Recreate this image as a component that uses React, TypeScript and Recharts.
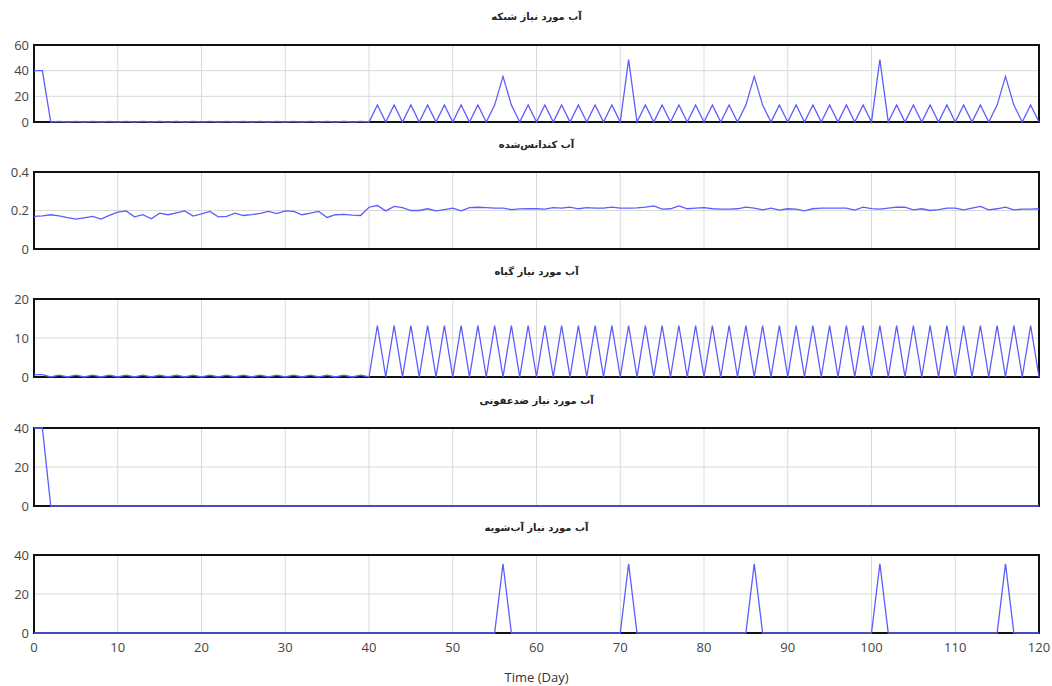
import { LineChart, Line, XAxis, YAxis, CartesianGrid, ReferenceArea } from 'recharts'

const days = [
  0, 1, 2, 3, 4, 5, 6, 7, 8, 9, 10, 11, 12, 13, 14, 15, 16, 17, 18, 19,
  20, 21, 22, 23, 24, 25, 26, 27, 28, 29, 30, 31, 32, 33, 34, 35, 36, 37, 38, 39,
  40, 41, 42, 43, 44, 45, 46, 47, 48, 49, 50, 51, 52, 53, 54, 55, 56, 57, 58, 59,
  60, 61, 62, 63, 64, 65, 66, 67, 68, 69, 70, 71, 72, 73, 74, 75, 76, 77, 78, 79,
  80, 81, 82, 83, 84, 85, 86, 87, 88, 89, 90, 91, 92, 93, 94, 95, 96, 97, 98, 99,
  100, 101, 102, 103, 104, 105, 106, 107, 108, 109, 110, 111, 112, 113, 114, 115, 116, 117, 118, 119,
  120,
]

// آب مورد نیاز شبکه
const network = [
  40, 40, 0, 0.5, 0, 0.5, 0, 0.5, 0, 0.5,
  0, 0.5, 0, 0.5, 0, 0.5, 0, 0.5, 0, 0.5,
  0, 0.5, 0, 0.5, 0, 0.5, 0, 0.5, 0, 0.5,
  0, 0.5, 0, 0.5, 0, 0.5, 0, 0.5, 0, 0.5,
  0, 13.2, 0, 13.2, 0, 13.2, 0, 13.2, 0, 13.2,
  0, 13.2, 0, 13.2, 0, 13.2, 35.5, 13.2, 0, 13.2,
  0, 13.2, 0, 13.2, 0, 13.2, 0, 13.2, 0, 13.2,
  0, 48.7, 0, 13.2, 0, 13.2, 0, 13.2, 0, 13.2,
  0, 13.2, 0, 13.2, 0, 13.2, 35.5, 13.2, 0, 13.2,
  0, 13.2, 0, 13.2, 0, 13.2, 0, 13.2, 0, 13.2,
  0, 48.7, 0, 13.2, 0, 13.2, 0, 13.2, 0, 13.2,
  0, 13.2, 0, 13.2, 0, 13.2, 35.5, 13.2, 0, 13.2,
  0,
]

// آب کندانس‌شده
const condensate = [
  0.169, 0.172, 0.178, 0.172, 0.163, 0.155, 0.162, 0.169, 0.155, 0.175,
  0.191, 0.198, 0.167, 0.178, 0.157, 0.186, 0.178, 0.188, 0.198, 0.171,
  0.183, 0.195, 0.167, 0.169, 0.186, 0.174, 0.179, 0.185, 0.195, 0.184,
  0.198, 0.195, 0.178, 0.186, 0.195, 0.164, 0.178, 0.18, 0.176, 0.174,
  0.217, 0.226, 0.198, 0.221, 0.215, 0.2, 0.2, 0.209, 0.198, 0.205,
  0.212, 0.198, 0.215, 0.217, 0.215, 0.212, 0.212, 0.205, 0.208, 0.21,
  0.209, 0.207, 0.215, 0.212, 0.217, 0.209, 0.215, 0.212, 0.212, 0.217,
  0.212, 0.212, 0.214, 0.217, 0.224, 0.207, 0.209, 0.224, 0.209, 0.212,
  0.215, 0.209, 0.207, 0.207, 0.209, 0.217, 0.212, 0.203, 0.212, 0.202,
  0.209, 0.207, 0.198, 0.209, 0.212, 0.212, 0.212, 0.212, 0.202, 0.217,
  0.21, 0.207, 0.212, 0.217, 0.217, 0.203, 0.209, 0.2, 0.205, 0.212,
  0.212, 0.203, 0.212, 0.221, 0.203, 0.209, 0.217, 0.203, 0.207, 0.207,
  0.209,
]

// آب مورد نیاز گیاه
const plant = [
  0.6, 0.6, 0, 0.5, 0, 0.5, 0, 0.5, 0, 0.5,
  0, 0.5, 0, 0.5, 0, 0.5, 0, 0.5, 0, 0.5,
  0, 0.5, 0, 0.5, 0, 0.5, 0, 0.5, 0, 0.5,
  0, 0.5, 0, 0.5, 0, 0.5, 0, 0.5, 0, 0.5,
  0, 13.2, 0, 13.2, 0, 13.2, 0, 13.2, 0, 13.2,
  0, 13.2, 0, 13.2, 0, 13.2, 0, 13.2, 0, 13.2,
  0, 13.2, 0, 13.2, 0, 13.2, 0, 13.2, 0, 13.2,
  0, 13.2, 0, 13.2, 0, 13.2, 0, 13.2, 0, 13.2,
  0, 13.2, 0, 13.2, 0, 13.2, 0, 13.2, 0, 13.2,
  0, 13.2, 0, 13.2, 0, 13.2, 0, 13.2, 0, 13.2,
  0, 13.2, 0, 13.2, 0, 13.2, 0, 13.2, 0, 13.2,
  0, 13.2, 0, 13.2, 0, 13.2, 0, 13.2, 0, 13.2,
  0,
]

// آب مورد نیاز ضدعفونی
const disinfect = [
  40, 40, 0, 0, 0, 0, 0, 0, 0, 0,
  0, 0, 0, 0, 0, 0, 0, 0, 0, 0,
  0, 0, 0, 0, 0, 0, 0, 0, 0, 0,
  0, 0, 0, 0, 0, 0, 0, 0, 0, 0,
  0, 0, 0, 0, 0, 0, 0, 0, 0, 0,
  0, 0, 0, 0, 0, 0, 0, 0, 0, 0,
  0, 0, 0, 0, 0, 0, 0, 0, 0, 0,
  0, 0, 0, 0, 0, 0, 0, 0, 0, 0,
  0, 0, 0, 0, 0, 0, 0, 0, 0, 0,
  0, 0, 0, 0, 0, 0, 0, 0, 0, 0,
  0, 0, 0, 0, 0, 0, 0, 0, 0, 0,
  0, 0, 0, 0, 0, 0, 0, 0, 0, 0,
  0,
]

// آب مورد نیاز آب‌شویه
const wash = [
  0, 0, 0, 0, 0, 0, 0, 0, 0, 0,
  0, 0, 0, 0, 0, 0, 0, 0, 0, 0,
  0, 0, 0, 0, 0, 0, 0, 0, 0, 0,
  0, 0, 0, 0, 0, 0, 0, 0, 0, 0,
  0, 0, 0, 0, 0, 0, 0, 0, 0, 0,
  0, 0, 0, 0, 0, 0, 35.5, 0, 0, 0,
  0, 0, 0, 0, 0, 0, 0, 0, 0, 0,
  0, 35.5, 0, 0, 0, 0, 0, 0, 0, 0,
  0, 0, 0, 0, 0, 0, 35.5, 0, 0, 0,
  0, 0, 0, 0, 0, 0, 0, 0, 0, 0,
  0, 35.5, 0, 0, 0, 0, 0, 0, 0, 0,
  0, 0, 0, 0, 0, 0, 35.5, 0, 0, 0,
  0,
]

const xTicks = [0, 10, 20, 30, 40, 50, 60, 70, 80, 90, 100, 110, 120]

const panels = [
  { key: 'network', title: 'آب مورد نیاز شبکه', ticks: [0, 20, 40, 60], top: 45, h: 77, titleY: 18 },
  { key: 'condensate', title: 'آب کندانس‌شده', ticks: [0, 0.2, 0.4], top: 172, h: 77, titleY: 146 },
  { key: 'plant', title: 'آب مورد نیاز گیاه', ticks: [0, 10, 20], top: 299, h: 78, titleY: 273 },
  { key: 'disinfect', title: 'آب مورد نیاز ضدعفونی', ticks: [0, 20, 40], top: 428, h: 78, titleY: 402 },
  { key: 'wash', title: 'آب مورد نیاز آب‌شویه', ticks: [0, 20, 40], top: 555, h: 78, titleY: 529 },
]

const data = days.map((t, i) => ({
  t,
  network: network[i],
  condensate: condensate[i],
  plant: plant[i],
  disinfect: disinfect[i],
  wash: wash[i],
}))

const tickStyle = { fontSize: 13, fill: '#444', fontFamily: '"Open Sans", sans-serif' }
const pad = 10

export default function App() {
  return (
    <div style={{ position: 'absolute', left: 0, top: 0, width: 1052, height: 686, background: '#fff' }}>
      {panels.map((p, idx) => {
        const last = idx === panels.length - 1
        const top = p.ticks[p.ticks.length - 1]
        return (
          <div key={p.key}>
            <div
              style={{
                position: 'absolute', left: 34, width: 1005, top: p.titleY - 7, textAlign: 'center',
                fontFamily: '"DejaVu Sans", sans-serif', fontWeight: 'bold', fontSize: 10, color: '#222', direction: 'rtl',
              }}
            >
              {p.title}
            </div>
            <div style={{ position: 'absolute', left: 0, top: p.top - pad }}>
              <LineChart
                width={1052}
                height={p.h + pad * 2 + (last ? 25 : 0)}
                data={data}
                margin={{ top: pad, right: 13, bottom: pad, left: 0 }}
              >
                <CartesianGrid stroke="#d9d9d9" strokeWidth={1} />
                <XAxis
                  dataKey="t"
                  type="number"
                  domain={[0, 120]}
                  ticks={xTicks}
                  hide={!last}
                  height={25}
                  tickLine={false}
                  axisLine={false}
                  tickSize={0}
                  tickMargin={10}
                  tick={tickStyle}
                />
                <YAxis
                  domain={[0, top]}
                  ticks={p.ticks}
                  width={34}
                  tickLine={false}
                  axisLine={false}
                  tickSize={0}
                  tickMargin={5}
                  tick={tickStyle}
                  interval={0}
                />
                <ReferenceArea x1={0} x2={120} y1={0} y2={top} fill="none" stroke="#111" strokeWidth={2} />
                <Line
                  type="linear"
                  dataKey={p.key}
                  stroke="#5c5cff"
                  strokeWidth={1.3}
                  dot={false}
                  isAnimationActive={false}
                />
              </LineChart>
            </div>
          </div>
        )
      })}
      <div
        style={{
          position: 'absolute', left: 34, width: 1005, top: 668, textAlign: 'center',
          fontFamily: '"Open Sans", sans-serif', fontSize: 13, color: '#333',
        }}
      >
        Time (Day)
      </div>
    </div>
  )
}
